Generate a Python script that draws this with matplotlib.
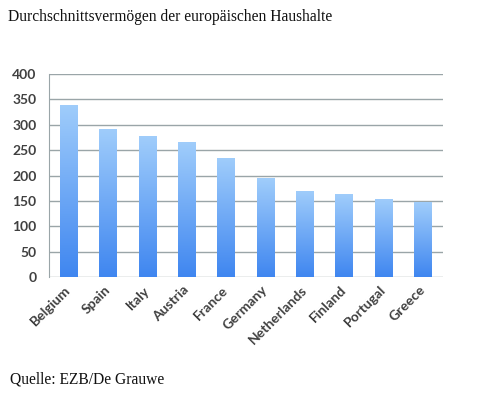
import numpy as np
import matplotlib
matplotlib.use('Agg')
import matplotlib.pyplot as plt
from matplotlib.colors import LinearSegmentedColormap

countries = ['Belgium', 'Spain', 'Italy', 'Austria', 'France',
             'Germany', 'Netherlands', 'Finland', 'Portugal', 'Greece']
wealth = [339, 292, 277, 266, 235, 195, 170, 163, 154, 147]
yticks = [0, 50, 100, 150, 200, 250, 300, 350, 400]

title = 'Durchschnittsvermögen der europäischen Haushalte'
source = 'Quelle: EZB/De Grauwe'

fig = plt.figure(figsize=(5, 3.96), dpi=100)
ax = fig.add_axes([0.098, 0.3005, 0.787, 0.5125])

grad = LinearSegmentedColormap.from_list('bluegrad', ['#3f86f0', '#a0cdfb'])
x = np.arange(len(countries))
bars = ax.bar(x, wealth, width=0.44, color='none', zorder=3)
g = np.linspace(0, 1, 256).reshape(-1, 1)
for b in bars:
    bx, bw, bh = b.get_x(), b.get_width(), b.get_height()
    im = ax.imshow(g, cmap=grad, origin='lower', aspect='auto',
                   extent=[bx, bx + bw, 0, bh], zorder=3)
    im.set_clip_path(b)

ax.set_xlim(-0.5, len(countries) - 0.5)
ax.set_ylim(0, 400)
ax.set_yticks(yticks)
ax.yaxis.grid(True, color='#9aa5a8', lw=1.0, zorder=0)
ax.set_axisbelow(True)
for s in ['top', 'right', 'bottom']:
    ax.spines[s].set_visible(False)
ax.spines['left'].set_color('#9aa5a8')
ax.tick_params(axis='both', length=0)
ax.tick_params(axis='y', pad=9)
ax.tick_params(axis='x', pad=8)

ax.set_xticks(x)
ax.set_xticklabels(countries, rotation=45, ha='right', va='center',
                   rotation_mode='anchor', family='Lato', fontweight='bold',
                   fontsize=10, color='#404040')
for lab in ax.get_yticklabels():
    lab.set_family('Lato')
    lab.set_fontweight('bold')
    lab.set_fontsize(10)
    lab.set_color('#404040')

fig.text(0.016, 0.958, title, family='Liberation Serif', fontsize=11.2,
         ha='left', va='center', color='#111111')
fig.text(0.02, 0.041, source, family='Liberation Serif', fontsize=11.2,
         ha='left', va='center', color='#111111')

fig.savefig('out.png', dpi=100)
